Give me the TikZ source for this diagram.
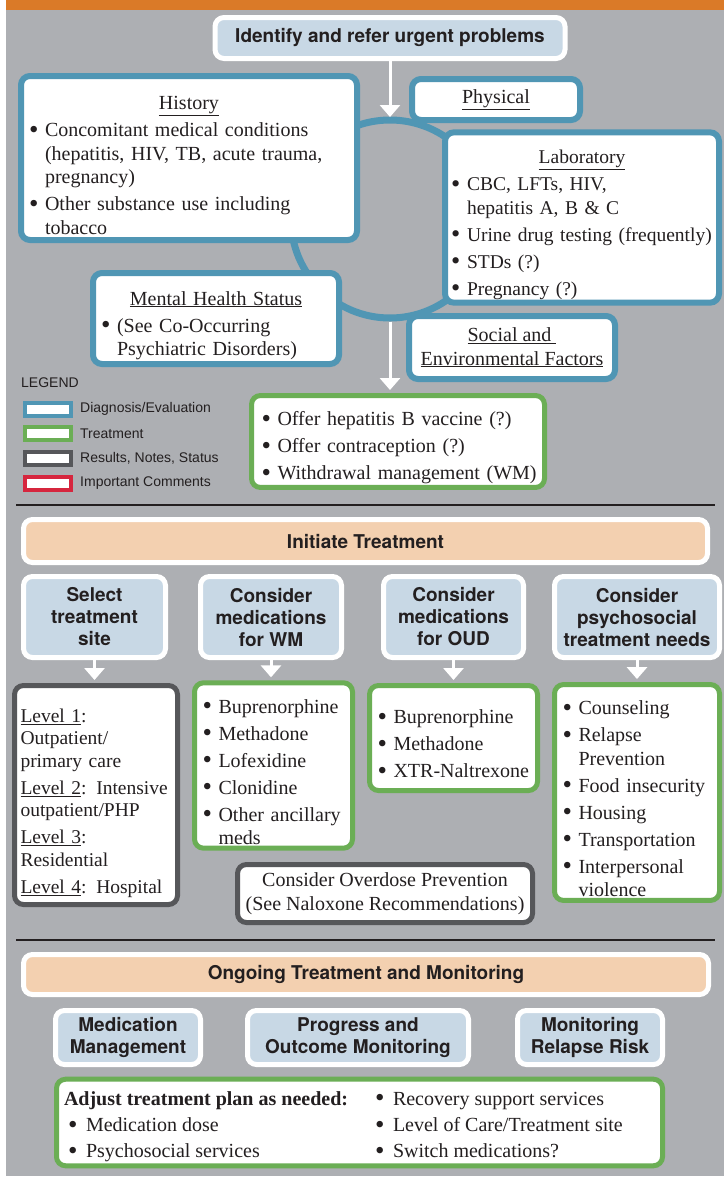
\documentclass[tikz,border=0pt]{standalone}
\usepackage{fontspec}
\setmainfont{Liberation Serif}
\newfontfamily\hdfont{TeX Gyre Heros}
\newfontfamily\lgfont{Liberation Sans}
\usepackage{graphicx}
\usepackage{xcolor}
\usepackage{tikz}
\usetikzlibrary{arrows.meta, positioning}

\definecolor{cgray}{RGB}{173,175,179}
\definecolor{corange}{RGB}{218,122,40}
\definecolor{cblue}{RGB}{80,150,180}
\definecolor{cgreen}{RGB}{107,174,85}
\definecolor{cdark}{RGB}{86,87,90}
\definecolor{cred}{RGB}{214,38,62}
\definecolor{clight}{RGB}{200,216,229}
\definecolor{cpeach}{RGB}{243,208,176}
\definecolor{ctext}{RGB}{35,31,32}

% list helpers for the boxes
\newcommand{\bglyph}{\raisebox{-1.5pt}{\scalebox{1.35}{\textbullet}}}
\newcommand{\btitle}[1]{{\centering\rule{0pt}{28pt}\underline{#1}\par}}
\newcommand{\bitem}[1]{\par\vspace{3.5pt}\makebox[16pt][l]{\bglyph}\mbox{#1}}
\newcommand{\bcont}[1]{\par\hspace*{16pt}\mbox{#1}}
\newcommand{\bdot}{\makebox[18pt][l]{\bglyph}}

\begin{document}
\begin{tikzpicture}[
  x=1pt, y=-1pt, text=ctext,
  diag/.style={draw=cblue, fill=white, line width=6pt, rounded corners=9pt},
  treat/.style={draw=cgreen, fill=white, line width=5pt, rounded corners=9pt},
  note/.style={draw=cdark, fill=white, line width=5pt, rounded corners=9pt},
  head/.style={draw=white, fill=clight, line width=5pt, rounded corners=9pt, align=center,
    font=\hdfont\bfseries\fontsize{19}{22}\selectfont},
  bar/.style={draw=white, fill=cpeach, line width=5pt, rounded corners=9pt,
    font=\hdfont\bfseries\fontsize{19}{22}\selectfont},
  txt/.style={font=\fontsize{20}{23.5}\selectfont},
  lst/.style={txt, align=left, inner xsep=8pt, execute at begin node={\setlength{\parindent}{0pt}}},
  swatch/.style={fill=white, line width=4pt, minimum width=46pt, minimum height=13pt, inner sep=0pt},
  lgd/.style={font=\lgfont\fontsize{14}{16}\selectfont, inner sep=0pt},
  arr/.style={-{Triangle[width=20pt,length=12pt]}, draw=white, line width=3pt, shorten >=3pt}
]
\useasboundingbox (0,0) rectangle (724,1181);
\fill[white] (0,0) rectangle (724,1181);
\fill[cgray] (6,10) rectangle (724,1176);
\fill[corange] (6,0) rectangle (724,10);

% assessment ring
\coordinate (ctr) at (390,219);
\coordinate (ctop) at (390,120);
\coordinate (cbot) at (390,321.5);
\draw[cblue, line width=7pt] (ctr) circle[radius=99pt];

\node[head, minimum width=350pt, minimum height=41pt] (idn) at (390,38) {Identify and refer urgent problems};

\node[diag, lst, text width=320pt, minimum height=164pt] (hist) at (189,158)
  {\btitle{History}\bitem{Concomitant medical conditions}\bcont{(hepatitis, HIV, TB, acute trauma,}\bcont{pregnancy)}\bitem{Other substance use including}\bcont{tobacco}};
\node[diag, txt, minimum width=168pt, minimum height=41pt] (phys) at (496,99.5) {\underline{Physical}};
\node[diag, lst, inner xsep=6pt, text width=262pt, minimum height=159pt, font=\fontsize{19.5}{23.5}\selectfont] (lab) at (582,217.5)
  {\btitle{Laboratory}\bitem{CBC, LFTs, HIV,}\bcont{hepatitis A, B \& C}\bitem{Urine drug testing (frequently)}\bitem{STDs (?)}\bitem{Pregnancy (?)}};
\node[diag, lst, text width=230pt, minimum height=91pt] (ment) at (216,318.5)
  {\btitle{Mental Health Status}\bitem{(See Co-Occurring}\bcont{Psychiatric Disorders)}};
\node[diag, txt, align=center, minimum width=206pt, minimum height=63pt] (soc) at (512,347.5)
  {\underline{Social and }\\\underline{Environmental Factors}};

\node[treat, lst, inner xsep=10pt, text width=273pt, minimum height=88pt] (trt) at (398,441.5)
  {\bitem{Offer hepatitis B vaccine (?)}\bitem{Offer contraception (?)}\bitem{Withdrawal management (WM)}};

% legend
\node[lgd, anchor=west] (lgt) at (21,383) {LEGEND};
\node[swatch, draw=cblue] (lg1) at (48,409) {};
\node[swatch, draw=cgreen] (lg2) at (48,433.5) {};
\node[swatch, draw=cdark] (lg3) at (48,458) {};
\node[swatch, draw=cred] (lg4) at (48,483) {};
\node[lgd, right=7pt of lg1] (lt1) {Diagnosis/Evaluation};
\node[lgd, right=7pt of lg2] (lt2) {Treatment};
\node[lgd, right=7pt of lg3] (lt3) {Results, Notes, Status};
\node[lgd, right=7pt of lg4] (lt4) {Important Comments};

\draw[ctext, line width=2pt] (16,505) -- (715,505);

% initiate treatment
\node[bar, minimum width=684pt, minimum height=43pt] (init) at (365.5,541) {Initiate Treatment};
\node[head, minimum width=142pt, minimum height=81pt] (site) at (94.5,617) {Select\\treatment\\site};
\node[head, minimum width=141pt, minimum height=81pt] (cwm) at (271,617) {Consider\\medications\\for WM};
\node[head, minimum width=140pt, minimum height=81pt] (coud) at (453.5,617) {Consider\\medications\\for OUD};
\node[head, minimum width=165pt, minimum height=81pt] (cpsy) at (637,617) {Consider\\psychosocial\\treatment needs};

\node[note, lst, inner xsep=6pt, text width=151pt, minimum height=219pt, font=\fontsize{19.5}{22.5}\selectfont] (lvl) at (96,795)
  {\rule{0pt}{30pt}\mbox{\underline{Level 1}:}\par Outpatient/\par \mbox{primary care}\par\vspace{4.5pt}\mbox{\underline{Level 2}: Intensive}\par \mbox{outpatient/PHP}\par\vspace{4.5pt}\mbox{\underline{Level 3}:}\par Residential\par\vspace{4.5pt}\mbox{\underline{Level 4}: Hospital}};
\node[treat, lst, text width=142pt, minimum height=160pt] (wmm) at (273.5,765.5)
  {\bitem{Buprenorphine}\bitem{Methadone}\bitem{Lofexidine}\bitem{Clonidine}\bitem{Other ancillary}\bcont{meds}};
\node[treat, lst, text width=152pt, minimum height=105pt] (oum) at (453.5,738)
  {\bitem{Buprenorphine}\bitem{Methadone}\bitem{XTR-Naltrexone}};
\node[treat, lst, text width=149pt, minimum height=214pt] (psy) at (637,792.5)
  {\bitem{Counseling}\bitem{Relapse}\bcont{Prevention}\bitem{Food insecurity}\bitem{Housing}\bitem{Transportation}\bitem{Interpersonal}\bcont{violence}};
\node[note, txt, align=center, minimum width=295pt, minimum height=58pt] (ovd) at (385,893.5)
  {Consider Overdose Prevention\\(See Naloxone Recommendations)};

\draw[arr] (idn.south) -- (ctop);
\draw[arr] (cbot) -- (cbot |- trt.north);
\draw[arr] (site.south) -- (site.south |- lvl.north);
\draw[arr] (cwm.south) -- (cwm.south |- wmm.north);
\draw[arr] (coud.south) -- (coud.south |- oum.north);
\draw[arr] (cpsy.south) -- (cpsy.south |- psy.north);

\draw[ctext, line width=2pt] (16,940) -- (715,940);

% ongoing treatment
\node[bar, minimum width=685pt, minimum height=40pt] (ong) at (366,974.5) {Ongoing Treatment and Monitoring};
\node[head, minimum width=145pt, minimum height=54pt] (mm) at (128,1037.5) {Medication\\Management};
\node[head, minimum width=221pt, minimum height=54pt] (pom) at (358,1037.5) {Progress and\\Outcome Monitoring};
\node[head, minimum width=145pt, minimum height=54pt] (mrr) at (590,1037.5) {Monitoring\\Relapse Risk};
\node[treat, txt, inner xsep=7.5pt, inner ysep=0pt, minimum height=86pt] (adj) at (359.5,1122.5)
  {\renewcommand{\arraystretch}{1.12}%
   \begin{tabular}{@{}p{311pt}@{}p{280pt}@{}}
   \rule{0pt}{26pt}\textbf{Adjust treatment plan as needed:} & \bdot Recovery support services\\
   \hspace*{4pt}\bdot Medication dose & \bdot Level of Care/Treatment site\\
   \hspace*{4pt}\bdot Psychosocial services & \bdot Switch medications?
   \end{tabular}};
\end{tikzpicture}
\end{document}
